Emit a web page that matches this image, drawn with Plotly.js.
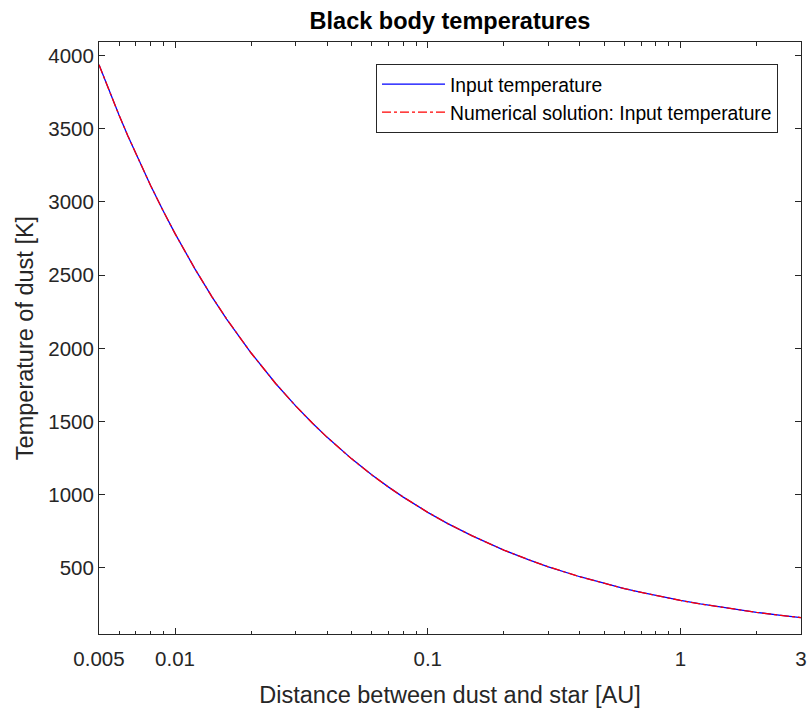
<!DOCTYPE html>
<html>
<head>
<meta charset="utf-8">
<script src="https://cdn.plot.ly/plotly-3.0.1.min.js"></script>
<style>html,body{margin:0;padding:0;background:#fff;}#chart{width:809px;height:711px;}</style>
</head>
<body>
<div id="chart"></div>
<script>
// Distance between dust and star [AU]
var distance = [0.005, 0.0055, 0.006, 0.0065, 0.007, 0.008, 0.009, 0.01, 0.012, 0.014, 0.016, 0.018, 0.02, 0.025, 0.03, 0.035, 0.04, 0.05, 0.06, 0.07, 0.08, 0.1, 0.12, 0.15, 0.2, 0.25, 0.3, 0.4, 0.5, 0.6, 0.7, 0.8, 1, 1.2, 1.5, 2, 2.5, 3];
// Input temperature [K]
var inputTemp = [3936, 3753, 3593, 3452, 3327, 3112, 2934, 2783, 2541, 2352, 2200, 2075, 1968, 1760, 1607, 1488, 1392, 1245, 1136, 1052, 984, 880, 803, 719, 622, 557, 508, 440, 394, 359, 333, 311, 278, 254, 227, 197, 176, 161];
// Numerical solution [K]
var numericalTemp = [3936, 3753, 3593, 3452, 3327, 3112, 2934, 2783, 2541, 2352, 2200, 2075, 1968, 1760, 1607, 1488, 1392, 1245, 1136, 1052, 984, 880, 803, 719, 622, 557, 508, 440, 394, 359, 333, 311, 278, 254, 227, 197, 176, 161];

var xTickVals = [0.005, 0.01, 0.1, 1, 3];
var xTickText = ['0.005', '0.01', '0.1', '1', '3'];
var xMinorVals = [0.006, 0.007, 0.008, 0.009, 0.02, 0.03, 0.04, 0.05, 0.06, 0.07, 0.08, 0.09, 0.2, 0.3, 0.4, 0.5, 0.6, 0.7, 0.8, 0.9, 2];
var yTickVals = [500, 1000, 1500, 2000, 2500, 3000, 3500, 4000];
var yTickText = ['500', '1000', '1500', '2000', '2500', '3000', '3500', '4000'];

var axisColor = '#262626';
var fontFam = '"Liberation Sans", Arial, Helvetica, sans-serif';

var traces = [
  {x: distance, y: inputTemp, type: 'scatter', mode: 'lines', name: 'Input temperature',
   line: {color: '#0000FF', width: 1.3}},
  {x: distance, y: numericalTemp, type: 'scatter', mode: 'lines', name: 'Numerical solution: Input temperature',
   line: {color: '#FF0000', width: 1.3, dash: 'dashdot'}}
];

var layout = {
  width: 809, height: 711,
  margin: {l: 99, r: 8, t: 42, b: 77, pad: 0},
  paper_bgcolor: '#ffffff', plot_bgcolor: '#ffffff',
  font: {family: fontFam, color: axisColor},
  title: {text: '<b>Black body temperatures</b>', font: {family: fontFam, size: 23.5, color: '#000000'},
          xref: 'paper', x: 0.5, xanchor: 'center', yref: 'container', y: 1 - 21/711, yanchor: 'middle'},
  xaxis: {
    type: 'log', range: [Math.log10(0.005), Math.log10(3)],
    tickmode: 'array', tickvals: xTickVals, ticktext: xTickText,
    ticks: 'inside', ticklen: 6, tickwidth: 1, tickcolor: axisColor,
    minor: {tickmode: 'array', tickvals: xMinorVals, ticks: 'inside', ticklen: 3.5, tickwidth: 1, tickcolor: axisColor, showgrid: false},
    showline: true, linecolor: axisColor, linewidth: 1, mirror: 'ticks',
    showgrid: false, zeroline: false,
    ticklabelstandoff: 6,
    tickfont: {family: fontFam, size: 20.5, color: axisColor},
    title: {text: 'Distance between dust and star [AU]', font: {family: fontFam, size: 23.5, color: axisColor}, standoff: 17},
    automargin: false
  },
  yaxis: {
    range: [49, 4092],
    tickmode: 'array', tickvals: yTickVals, ticktext: yTickText,
    ticks: 'inside', ticklen: 6, tickwidth: 1, tickcolor: axisColor,
    showline: true, linecolor: axisColor, linewidth: 1, mirror: 'ticks',
    showgrid: false, zeroline: false,
    tickfont: {family: fontFam, size: 20.5, color: axisColor},
    title: {text: 'Temperature of dust [K]', font: {family: fontFam, size: 23.5, color: axisColor}, standoff: 8},
    automargin: false
  },
  showlegend: true,
  legend: {x: (778 - 99) / 702, xanchor: 'right', y: (634 - 64) / 592, yanchor: 'top',
           bgcolor: '#ffffff', bordercolor: axisColor, borderwidth: 1,
           font: {family: fontFam, size: 19.3, color: '#000000'},
           itemwidth: 63, tracegroupgap: 0}
};

Plotly.newPlot('chart', traces, layout, {displayModeBar: false, staticPlot: true});
</script>
</body>
</html>
